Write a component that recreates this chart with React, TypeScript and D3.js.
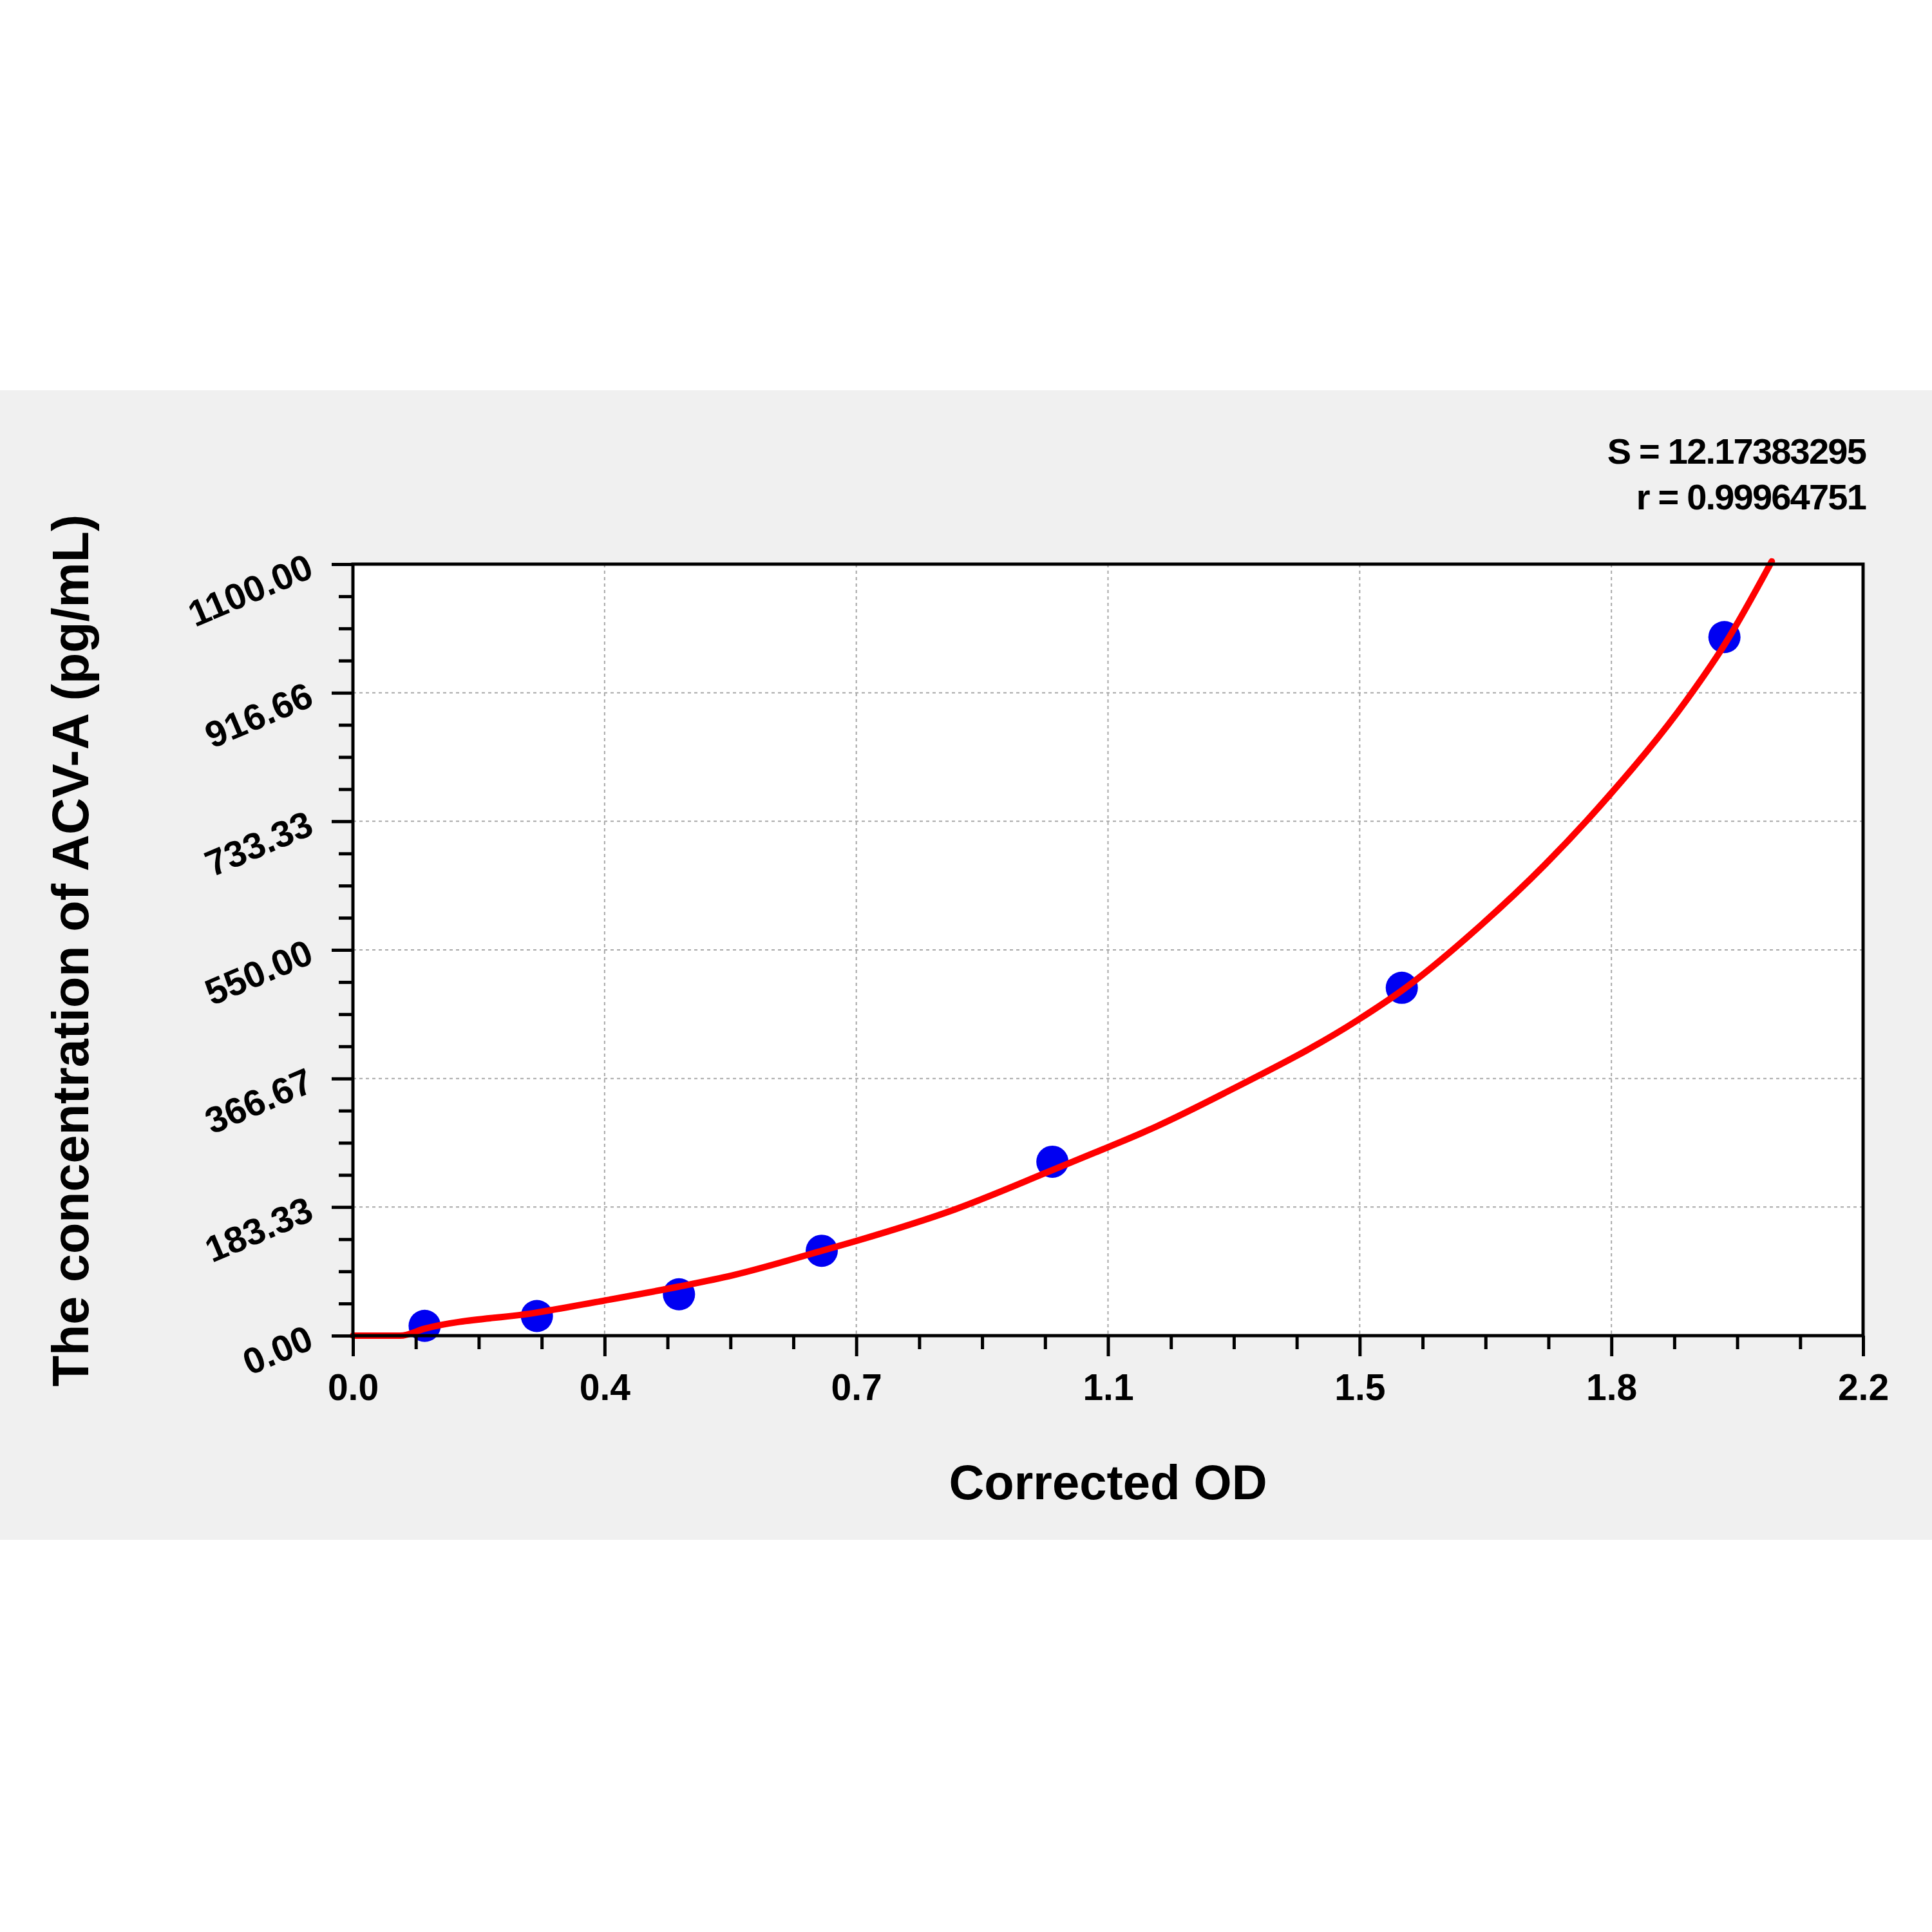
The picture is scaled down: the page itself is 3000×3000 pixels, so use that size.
import { FC, useEffect, useRef } from 'react';
import * as d3 from 'd3';

// standard points (corrected OD vs concentration)
const odValues = [0.1045, 0.268, 0.475, 0.683, 1.019, 1.528, 1.998];
const concValues = [14, 28, 59, 121, 248, 496, 996];

// fitted curve
const curveOd = [0, 0.069, 0.1045, 0.268, 0.366, 0.475, 0.553, 0.683, 0.733, 0.877, 1.019, 1.081, 1.17, 1.268, 1.464, 1.528, 1.643, 1.737, 1.83, 1.942, 1.998, 2.067];
const curveConc = [0, 0, 10, 33, 50, 70, 86, 121, 135, 180, 236, 261, 298, 345, 450, 492, 585, 672, 770, 905, 985, 1104];

const xTickLabels = ['0.0', '0.4', '0.7', '1.1', '1.5', '1.8', '2.2'];
const yTickLabels = ['0.00', '183.33', '366.67', '550.00', '733.33', '916.66', '1100.00'];
const statLines = ['S = 12.17383295', 'r = 0.99964751'];

const xTitle = 'Corrected OD';
const yTitle = 'The concentration of ACV-A (pg/mL)';

const FONT = '"Liberation Sans", Arial, sans-serif';

const StandardCurve: FC = () => {
  const svgRef = useRef<SVGSVGElement>(null);

  useEffect(() => {
    if (!svgRef.current) return;
    d3.select(svgRef.current).selectAll('*').remove();

    const width = 3000;
    const height = 3000;
    const left = 548;
    const right = 2893;
    const top = 876;
    const bottom = 2074;

    const svg = d3.select(svgRef.current)
        .attr('width', width)
        .attr('height', height);

    svg.append('rect')
        .attr('width', width)
        .attr('height', height)
        .attr('fill', '#ffffff');

    // grey panel
    svg.append('rect')
        .attr('x', 0)
        .attr('y', 606)
        .attr('width', width)
        .attr('height', 2391 - 606)
        .attr('fill', '#f0f0f0');

    const x = d3.scaleLinear().domain([0, 2.2]).range([left, right]);
    const y = d3.scaleLinear().domain([0, 1100]).range([bottom, top]);

    const xMajor = d3.range(xTickLabels.length).map(i => (2.2 * i) / (xTickLabels.length - 1));
    const yMajor = d3.range(yTickLabels.length).map(i => (1100 * i) / (yTickLabels.length - 1));
    const xMinor = d3.range(0, (xMajor.length - 1) * 4 + 1).filter(i => i % 4 !== 0).map(i => (2.2 * i) / 24);
    const yMinor = d3.range(0, (yMajor.length - 1) * 4 + 1).filter(i => i % 4 !== 0).map(i => (1100 * i) / 24);

    // plot background
    svg.append('rect')
        .attr('x', left)
        .attr('y', top)
        .attr('width', right - left)
        .attr('height', bottom - top)
        .attr('fill', '#ffffff');

    // grid
    const grid = svg.append('g')
        .attr('stroke', '#a8a8a8')
        .attr('stroke-width', 2)
        .attr('stroke-dasharray', '5,5');
    xMajor.slice(1, -1).forEach(v => {
      grid.append('line')
          .attr('x1', x(v)).attr('x2', x(v))
          .attr('y1', top).attr('y2', bottom);
    });
    yMajor.slice(1, -1).forEach(v => {
      grid.append('line')
          .attr('x1', left).attr('x2', right)
          .attr('y1', y(v)).attr('y2', y(v));
    });

    // standard points
    svg.append('g')
        .selectAll('circle')
        .data(odValues.map((od, i) => [od, concValues[i]]))
        .join('circle')
        .attr('cx', d => x(d[0]))
        .attr('cy', d => y(d[1]))
        .attr('r', 25)
        .attr('fill', '#0000f2');

    // fitted curve
    const line = d3.line<number[]>()
        .x(d => x(d[0]))
        .y(d => y(d[1]))
        .curve(d3.curveMonotoneX);

    svg.append('path')
        .datum(curveOd.map((od, i) => [od, curveConc[i]]))
        .attr('d', line)
        .attr('fill', 'none')
        .attr('stroke', '#ff0000')
        .attr('stroke-width', 10)
        .attr('stroke-linecap', 'round')
        .attr('stroke-linejoin', 'round');

    // frame
    svg.append('rect')
        .attr('x', left)
        .attr('y', top)
        .attr('width', right - left)
        .attr('height', bottom - top)
        .attr('fill', 'none')
        .attr('stroke', '#000000')
        .attr('stroke-width', 5);

    // x axis
    const xAxis = svg.append('g')
        .attr('transform', `translate(0,${bottom})`)
        .call(d3.axisBottom(x)
            .tickValues(xMajor)
            .tickSize(32)
            .tickFormat((_, i) => xTickLabels[i]));
    xAxis.select('.domain').remove();
    xAxis.selectAll('line').attr('stroke', '#000').attr('stroke-width', 5);
    xAxis.selectAll('text')
        .attr('y', 100)
        .attr('dy', 0)
        .attr('fill', '#000')
        .attr('font-family', FONT)
        .attr('font-weight', 'bold')
        .attr('font-size', 57);

    const xAxisMinor = svg.append('g')
        .attr('transform', `translate(0,${bottom})`)
        .call(d3.axisBottom(x).tickValues(xMinor).tickSize(21).tickFormat(() => ''));
    xAxisMinor.select('.domain').remove();
    xAxisMinor.selectAll('line').attr('stroke', '#000').attr('stroke-width', 5);

    // y axis
    const yAxis = svg.append('g')
        .attr('transform', `translate(${left},0)`)
        .call(d3.axisLeft(y)
            .tickValues(yMajor)
            .tickSize(33)
            .tickFormat((_, i) => yTickLabels[i]));
    yAxis.select('.domain').remove();
    yAxis.selectAll('line').attr('stroke', '#000').attr('stroke-width', 5);
    yAxis.selectAll('text')
        .attr('x', 0)
        .attr('dy', '0.35em')
        .attr('transform', 'translate(-66,0) rotate(-23)')
        .attr('fill', '#000')
        .attr('font-family', FONT)
        .attr('font-weight', 'bold')
        .attr('font-size', 57);

    const yAxisMinor = svg.append('g')
        .attr('transform', `translate(${left},0)`)
        .call(d3.axisLeft(y).tickValues(yMinor).tickSize(22).tickFormat(() => ''));
    yAxisMinor.select('.domain').remove();
    yAxisMinor.selectAll('line').attr('stroke', '#000').attr('stroke-width', 5);

    // axis titles
    svg.append('text')
        .attr('x', (left + right) / 2)
        .attr('y', 2328)
        .attr('text-anchor', 'middle')
        .attr('font-family', FONT)
        .attr('font-weight', 'bold')
        .attr('font-size', 76)
        .attr('fill', '#000')
        .text(xTitle);

    svg.append('text')
        .attr('transform', `translate(137,1476) rotate(-90)`)
        .attr('text-anchor', 'middle')
        .attr('font-family', FONT)
        .attr('font-weight', 'bold')
        .attr('font-size', 79)
        .attr('fill', '#000')
        .text(yTitle);

    // fit statistics
    statLines.forEach((s, i) => {
      svg.append('text')
          .attr('x', 2897)
          .attr('y', 720 + i * 71)
          .attr('text-anchor', 'end')
          .attr('font-family', FONT)
          .attr('font-weight', 'bold')
          .attr('font-size', 56)
          .attr('letter-spacing', -1.8)
          .attr('fill', '#000')
          .text(s);
    });
  }, []);

  return <svg ref={svgRef} style={{ position: 'absolute', left: 0, top: 0, display: 'block' }} />;
};

export default function App() {
  return <StandardCurve />;
}
